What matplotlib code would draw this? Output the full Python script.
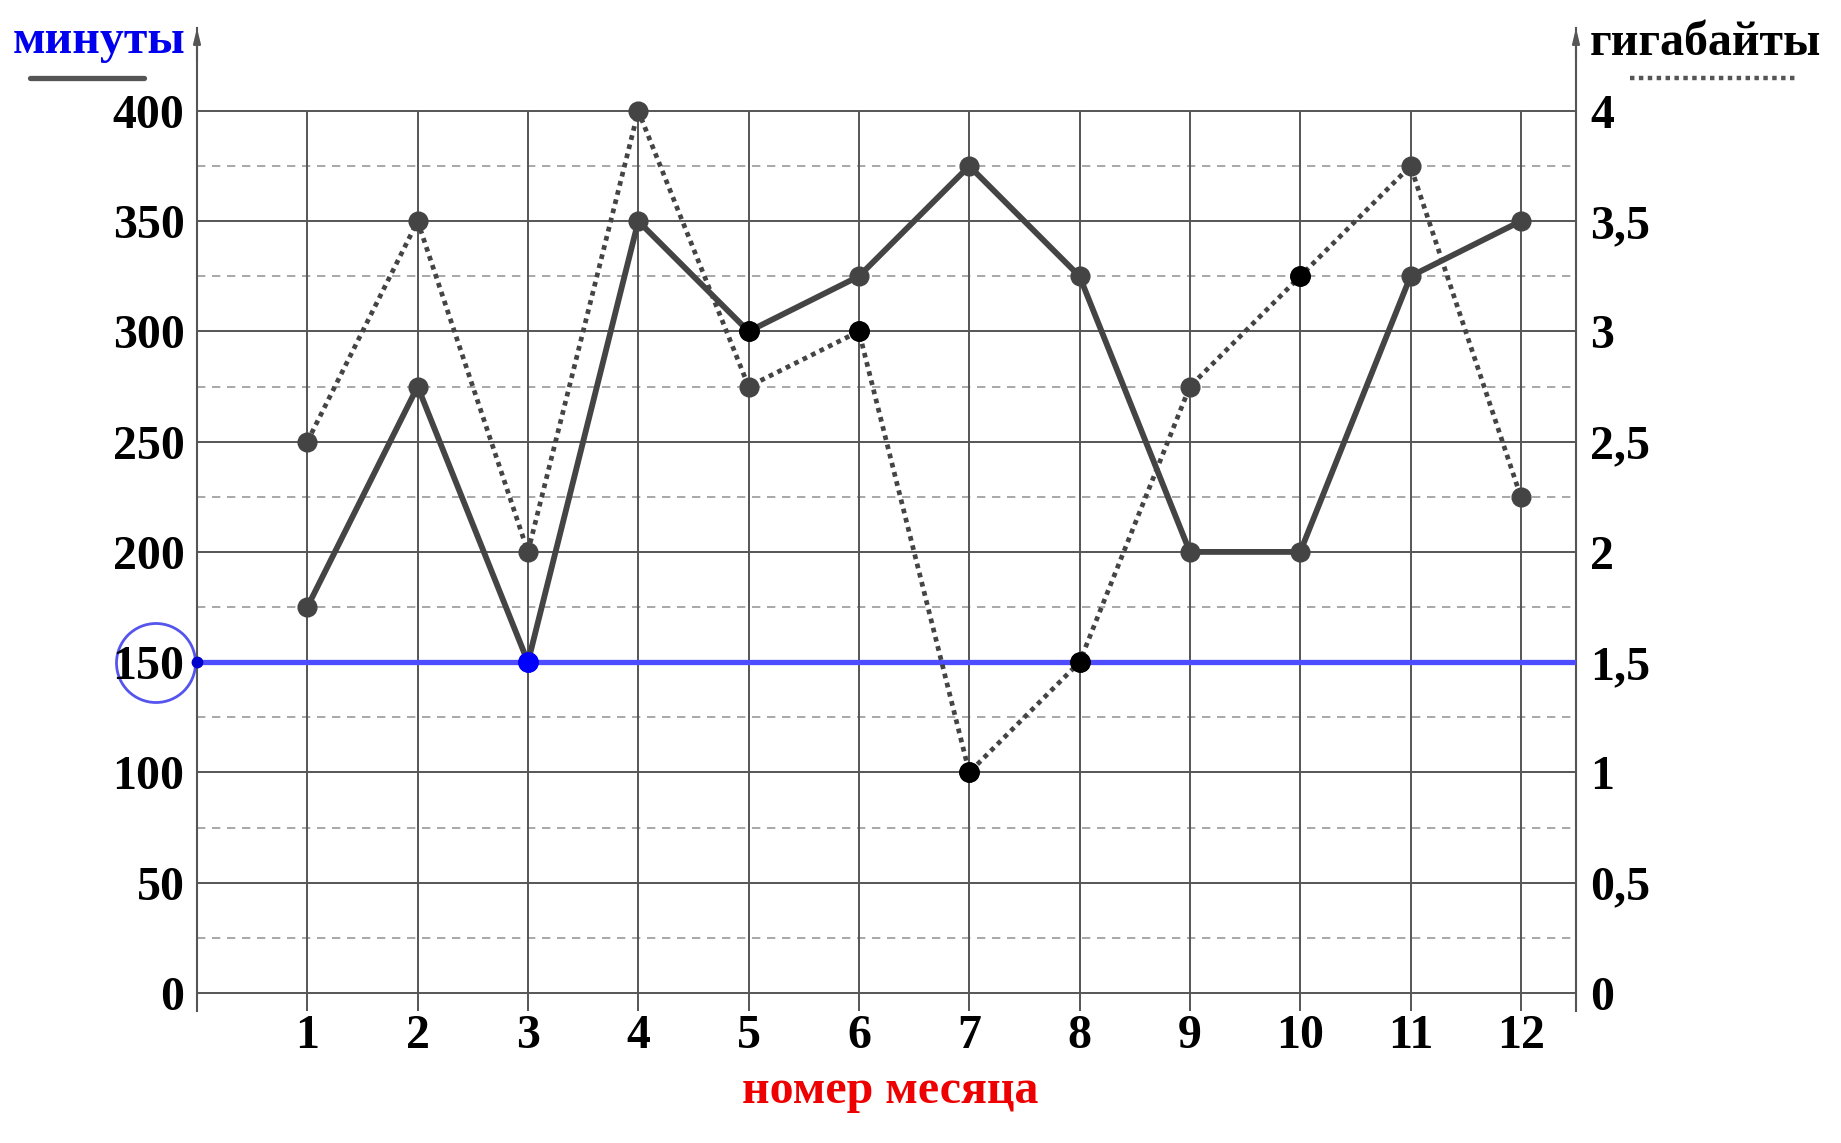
import matplotlib.pyplot as plt
from matplotlib.patches import Circle

# data
months = [1, 2, 3, 4, 5, 6, 7, 8, 9, 10, 11, 12]
minutes = [175, 275, 150, 350, 300, 325, 375, 325, 200, 200, 325, 350]
gigabytes = [2.5, 3.5, 2, 4, 2.75, 3, 1, 1.5, 2.75, 3.25, 3.75, 2.25]
minutes_black = [5]          # months where the minutes marker is black
minutes_blue = [3]           # month where the minutes marker is blue
gb_black = [6, 7, 8, 10]     # months where the gigabyte marker is black
limit_minutes = 150

left_ticks = [0, 50, 100, 150, 200, 250, 300, 350, 400]
left_labels = ['0', '50', '100', '150', '200', '250', '300', '350', '400']
minor_ticks = [25, 75, 125, 175, 225, 275, 325, 375]
right_ticks = [0, 0.5, 1, 1.5, 2, 2.5, 3, 3.5, 4]
right_labels = ['0', '0,5', '1', '1,5', '2', '2,5', '3', '3,5', '4']

plt.rcParams['font.family'] = ['Liberation Serif', 'DejaVu Serif']
plt.rcParams['font.weight'] = 'bold'
FS = 34.5
GRAY = '#444444'

W, H = 1841, 1143
fig = plt.figure(figsize=(W / 100, H / 100), dpi=100)
ax = fig.add_axes([197 / W, 1 - 1011 / H, (1576 - 197) / W, (1011 - 28) / H])
y0, y1 = -8.2, 437.6
ax.set_xlim(0, 12.5)
ax.set_ylim(y0, y1)

# right axis only for the gigabyte scale
ax2 = ax.twinx()
ax2.set_ylim(y0 / 100, y1 / 100)
gb = ax2.transData  # gigabyte series is drawn in ax, on the right-axis scale

# grid
for v in left_ticks:
    ax.axhline(v, color='#555555', lw=1.4, zorder=1)
for v in minor_ticks:
    ax.axhline(v, color='#999999', lw=1.2, ls=(0, (5, 4)), zorder=1)
ax.vlines(months, y0, 400, color='#555555', lw=1.4, zorder=1)

# limit line
ax.axhline(limit_minutes, color='#4d4dff', lw=3.8, zorder=2)
ax.plot([0], [limit_minutes], 'o', color='#0000cc', ms=7.5, clip_on=False, zorder=6)

# gigabytes series (dotted)
ax.plot(months, gigabytes, transform=gb, color=GRAY, lw=3.4, ls=(0, (1, 1)), zorder=3,
        dash_capstyle='butt', marker='o', ms=13.5, mfc=GRAY, mec=GRAY)
for m, v in zip(months, gigabytes):
    if m in gb_black:
        ax.plot(m, v, 'o', transform=gb, color='black', ms=14, zorder=6)

# minutes series (solid)
ax.plot(months, minutes, color=GRAY, lw=4.2, zorder=4,
        marker='o', ms=13.5, mfc=GRAY, mec=GRAY)
for m, v in zip(months, minutes):
    if m in minutes_black:
        ax.plot(m, v, 'o', color='black', ms=14, zorder=6)
    if m in minutes_blue:
        ax.plot(m, v, 'o', color='#0000ff', ms=14, zorder=6)

ax.set_xticks(months)
ax.set_xticklabels([str(m) for m in months], fontsize=FS, fontweight='bold')
ax.tick_params(axis='x', length=0, pad=2)
ax.set_yticks(left_ticks)
ax.set_yticklabels(left_labels, fontsize=FS, fontweight='bold')
ax.tick_params(axis='y', length=0, pad=9)

ax2.set_yticks(right_ticks)
ax2.set_yticklabels(right_labels, fontsize=FS, fontweight='bold')
ax2.tick_params(axis='y', length=0, pad=10)

for a in (ax, ax2):
    for s in ('top', 'bottom'):
        a.spines[s].set_visible(False)
    a.spines['left'].set_visible(a is ax)
    a.spines['right'].set_visible(a is ax2)
    a.spines['left'].set_color('#555555')
    a.spines['right'].set_color('#555555')
    a.spines['left'].set_linewidth(1.5)
    a.spines['right'].set_linewidth(1.5)
ax.set_zorder(ax2.get_zorder() + 1)
ax.patch.set_visible(False)

# arrows at the top of both axes
for xa in (0, 12.5):
    ax.annotate('', xy=(xa, y1), xytext=(xa, y1 - 15), annotation_clip=False,
                arrowprops=dict(arrowstyle='-|>,head_width=0.22,head_length=0.9',
                                color='#555555', lw=1.5, shrinkA=0, shrinkB=0))

# axis titles and legend marks
fig.text(99 / W, 1 - 53 / H, 'минуты', color='#0000ee', fontsize=FS,
         fontweight='bold', ha='center', va='baseline')
fig.text(1705 / W, 1 - 55 / H, 'гигабайты', color='black', fontsize=FS,
         fontweight='bold', ha='center', va='baseline')
fig.add_artist(plt.Line2D([30 / W, 144 / W], [1 - 78 / H, 1 - 78 / H],
                          color='#555555', lw=3.8, solid_capstyle='round'))
fig.add_artist(plt.Line2D([1630 / W, 1797 / W], [1 - 78 / H, 1 - 78 / H],
                          color='#555555', lw=3.2, ls=(0, (1, 1))))
fig.text(890 / W, 1 - 1103 / H, 'номер месяца', color='#ee0000', fontsize=FS,
         fontweight='bold', ha='center', va='baseline')

# circle around the 150 label
fig.add_artist(Circle((1.56, (H - 663) / 100), 0.395, transform=fig.dpi_scale_trans,
                      fill=False, edgecolor='#5555ee', lw=2.0))

fig.savefig('out.png', dpi=100)
